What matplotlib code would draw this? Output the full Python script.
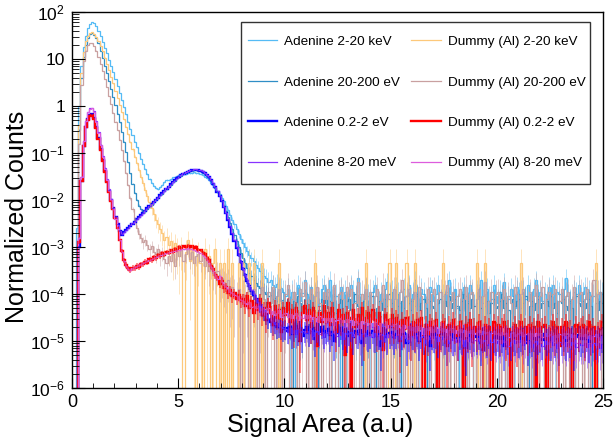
import matplotlib.pyplot as plt
import matplotlib.patches as patches
import numpy as np
from matplotlib.ticker import MultipleLocator, LogLocator, NullFormatter

plt.rcParams['font.family'] = ['Liberation Sans', 'DejaVu Sans']
plt.rcParams['mathtext.fontset'] = 'custom'
plt.rcParams['mathtext.rm'] = 'Liberation Sans'
plt.rcParams['mathtext.it'] = 'Liberation Sans:italic'
plt.rcParams['mathtext.bf'] = 'Liberation Sans:bold'

# histogram contents, log10 of the normalized counts, bins of 0.1 from 0 to 25
Z = -9  # empty bin
edges = np.linspace(0, 25, 251)

ade_kev = [
    Z, Z, -2.6, 0.0, 0.85, 1.25, 1.5, 1.66, 1.75, 1.79,
    1.76, 1.7, 1.6, 1.48, 1.36, 1.24, 1.12, 0.98, 0.86, 0.72,
    0.58, 0.42, 0.27, 0.12, -0.03, -0.18, -0.33, -0.48, -0.62, -0.76,
    -0.88, -1.0, -1.12, -1.23, -1.34, -1.45, -1.55, -1.63, -1.7, -1.74,
    -1.76, -1.72, -1.68, -1.62, -1.58, -1.57, -1.55, -1.52, -1.5, -1.48,
    -1.47, -1.46, -1.45, -1.44, -1.43, -1.42, -1.42, -1.41, -1.42, -1.42,
    -1.44, -1.46, -1.5, -1.54, -1.58, -1.63, -1.69, -1.75, -1.81, -1.87,
    -1.95, -2.03, -2.12, -2.22, -2.32, -2.42, -2.52, -2.62, -2.72, -2.82,
    -2.92, -3.0, -3.08, -3.16, -3.24, -3.3, -3.38, -3.45, -3.5, -3.56,
    -3.62, -3.66, -3.74, -3.7, -3.8, -3.85, -3.78, -3.92, -3.88, -3.95,
    -4.05, -3.9, -4.2, -3.95, Z, -4.0, -3.8, -4.15, -3.98, -3.7,
    -4.0, -4.1, -3.85, Z, -4.05, -3.95, -4.25, -3.9, -3.8, -4.1,
    -3.95, -3.7, -4.2, -4.0, -4.05, Z, -3.85, -4.1, -3.95, -4.3,
    -4.0, -3.8, -3.95, -4.15, -3.65, -4.0, Z, -4.1, -3.9, -4.05,
    -4.2, -3.95, -3.8, -4.05, Z, -4.0, -4.3, -3.9, -3.75, -4.0,
    -3.95, -4.1, -3.85, -4.0, -4.2, Z, -3.9, -4.05, -3.8, -4.15,
    -4.0, -3.7, -4.05, -4.25, -3.9, -4.0, Z, -4.1, -3.85, -3.95,
    -4.15, -4.0, -3.8, Z, -4.05, -4.2, -3.95, -3.7, -4.0, -4.1,
    -3.9, -4.3, Z, -4.0, -3.85, -4.05, -4.15, -3.8, -4.0, Z,
    -3.95, -4.05, -3.7, -4.2, -4.0, -3.9, Z, -4.1, -3.8, -4.05,
    -4.2, -3.95, -4.0, -3.75, Z, -4.1, -3.9, -4.05, -4.3, -3.85,
    -4.0, Z, -3.95, -4.1, -3.8, -4.0, -4.25, -3.9, -3.7, -4.05,
    -3.95, -4.15, -4.0, Z, -3.85, -4.05, -3.8, -4.2, -3.95, -4.0,
    -4.1, -3.9, -3.65, -4.05, -4.2, Z, -3.95, -4.0, -3.8, -4.15,
    -4.0, -3.85, -4.1, -3.95, Z, -4.05, -3.7, -4.2, -3.95, -4.0,
]

ade_ev20 = [
    Z, Z, Z, -0.5, 0.6, 1.05, 1.3, 1.45, 1.53, 1.55,
    1.52, 1.45, 1.33, 1.18, 1.02, 0.86, 0.7, 0.53, 0.36, 0.19,
    0.02, -0.16, -0.35, -0.55, -0.76, -0.98, -1.2, -1.43, -1.65, -1.85,
    -2.0, -2.12, -2.2, -2.25, -2.24, -2.19, -2.14, -2.1, -2.05, -2.0,
    -1.96, -1.9, -1.87, -1.8, -1.77, -1.71, -1.68, -1.62, -1.59, -1.54,
    -1.5, -1.48, -1.44, -1.43, -1.41, -1.39, -1.38, -1.37, -1.37, -1.38,
    -1.39, -1.42, -1.45, -1.49, -1.54, -1.6, -1.67, -1.75, -1.83, -1.92,
    -2.02, -2.12, -2.24, -2.36, -2.49, -2.62, -2.75, -2.88, -3.0, -3.12,
    -3.24, -3.35, -3.45, -3.55, -3.62, -3.7, -3.76, -3.82, -3.88, -3.92,
    -3.95, -4.0, -4.05, -4.02, -4.1, -4.08, -4.15, -4.1, -4.2, -4.12,
    -4.25, -4.1, -4.3, Z, -4.15, -4.35, -4.05, -4.2, -4.4, -4.1,
    -4.2, -4.3, -4.0, -4.25, -4.15, Z, -4.35, -4.1, -4.2, -4.05,
    -4.3, -4.15, -4.25, -4.05, -4.4, -4.2, -4.1, Z, -4.25, -4.15,
    -4.1, -4.35, -4.2, -4.0, -4.25, -4.3, Z, -4.15, -4.2, -4.4,
    -4.25, -4.05, Z, -4.3, -4.15, -4.2, -4.35, -4.1, -4.25, -4.0,
    -4.2, -4.4, -4.1, -4.25, Z, -4.15, -4.3, -4.05, -4.2, -4.35,
    -4.15, -4.25, -4.0, -4.35, -4.2, -4.1, -4.3, Z, -4.15, -4.25,
    -4.3, Z, -4.2, -4.1, -4.4, -4.15, -4.25, -4.05, -4.3, -4.2,
    -4.1, -4.25, -4.35, -4.15, -4.0, Z, -4.2, -4.3, -4.1, -4.25,
    -4.2, -4.05, -4.3, Z, -4.25, -4.15, -4.4, -4.2, -4.1, -4.3,
    -4.25, -4.15, -4.0, -4.3, -4.2, -4.35, Z, -4.1, -4.25, -4.15,
    -4.1, -4.3, -4.2, -4.05, Z, -4.25, -4.15, -4.35, -4.2, -4.1,
    -4.3, -4.2, Z, -4.15, -4.25, -4.05, -4.3, -4.2, -4.4, -4.15,
    -4.2, -4.1, -4.25, -4.35, -4.15, -4.3, Z, -4.05, -4.2, -4.25,
    -4.15, -4.3, -4.2, -4.1, -4.25, Z, -4.2, -4.35, -4.15, -4.2,
]

ade_ev02 = [
    Z, Z, Z, -3.0, -1.6, -0.85, -0.45, -0.28, -0.2, -0.18,
    -0.25, -0.45, -0.68, -0.92, -1.15, -1.38, -1.6, -1.8, -2.0, -2.18,
    -2.36, -2.52, -2.66, -2.74, -2.69, -2.64, -2.6, -2.55, -2.5, -2.46,
    -2.41, -2.37, -2.32, -2.28, -2.23, -2.18, -2.13, -2.08, -2.04, -1.99,
    -1.95, -1.9, -1.86, -1.81, -1.76, -1.72, -1.67, -1.62, -1.58, -1.54,
    -1.5, -1.47, -1.44, -1.42, -1.4, -1.38, -1.37, -1.36, -1.36, -1.37,
    -1.38, -1.4, -1.43, -1.47, -1.52, -1.58, -1.65, -1.73, -1.82, -1.92,
    -2.03, -2.15, -2.28, -2.42, -2.57, -2.72, -2.87, -3.02, -3.17, -3.32,
    -3.47, -3.6, -3.72, -3.83, -3.93, -4.02, -4.1, -4.18, -4.26, -4.33,
    -4.4, -4.48, -4.55, -4.6, -4.65, -4.62, -4.7, -4.68, -4.72, -4.75,
    -4.72, -4.78, -4.7, -4.85, -4.75, -4.68, -4.8, -4.74, -4.9, -4.76,
    -4.7, -4.82, -4.78, -4.72, -4.95, -4.76, -4.8, -4.7, -4.84, -4.78,
    -4.75, -4.88, -4.8, -5.0, -4.76, -4.82, -4.72, -4.86, -4.79, -4.9,
    -4.8, -4.74, -4.92, -4.78, -4.85, -4.76, -5.05, -4.82, -4.78, -4.88,
    -4.84, -4.78, -4.9, -4.8, -4.86, -5.1, -4.82, -4.76, -4.92, -4.84,
    -4.8, -4.92, -4.85, -4.78, -4.95, -4.86, -4.82, -5.05, -4.88, -4.8,
    -4.86, -4.9, -4.82, -5.0, -4.84, -4.92, -4.8, -4.88, -5.1, -4.86,
    -4.9, -4.84, -4.96, -4.86, -4.8, -4.92, -5.05, -4.88, -4.85, -4.94,
    -4.88, -5.0, -4.86, -4.92, -4.84, -5.15, -4.9, -4.86, -4.95, -4.88,
    -4.92, -4.86, -5.05, -4.9, -4.88, -4.96, -4.84, -5.0, -4.9, -4.94,
    -4.88, -4.95, -4.9, -5.1, -4.86, -4.92, -5.0, -4.88, -4.94, -4.9,
    -4.96, -4.88, -4.92, -4.86, -5.05, -4.9, -4.95, -4.88, -5.15, -4.92,
    -4.9, -4.98, -4.86, -4.94, -4.9, -5.0, -4.88, -4.96, -4.9, -5.05,
    -4.94, -4.88, -5.0, -4.9, -4.96, -4.86, -5.1, -4.92, -4.88, -4.95,
    -4.9, -4.96, -4.88, -5.02, -4.92, -4.9, -4.98, -4.86, -4.94, -4.9,
]

ade_mev = [
    Z, Z, Z, -2.8, -1.5, -0.75, -0.32, -0.12, -0.05, -0.04,
    -0.1, -0.32, -0.56, -0.82, -1.07, -1.31, -1.55, -1.77, -1.98, -2.18,
    -2.36, -2.53, -2.65, -2.72, -2.68, -2.63, -2.59, -2.54, -2.49, -2.45,
    -2.4, -2.36, -2.31, -2.27, -2.22, -2.17, -2.12, -2.08, -2.03, -1.98,
    -1.94, -1.89, -1.85, -1.8, -1.75, -1.71, -1.66, -1.61, -1.57, -1.53,
    -1.49, -1.46, -1.43, -1.41, -1.39, -1.37, -1.36, -1.35, -1.35, -1.36,
    -1.37, -1.39, -1.42, -1.46, -1.51, -1.57, -1.64, -1.72, -1.81, -1.91,
    -2.02, -2.14, -2.27, -2.41, -2.56, -2.71, -2.86, -3.01, -3.16, -3.31,
    -3.46, -3.59, -3.71, -3.82, -3.92, -4.01, -4.1, -4.18, -4.25, -4.32,
    -4.38, -4.45, -4.5, -4.56, -4.6, -4.64, -4.62, -4.68, -4.7, -4.72,
    -4.74, -4.8, -4.72, -4.82, -4.76, -4.86, -4.74, -4.8, -4.78, -4.84,
    -4.78, -4.84, -4.76, -4.9, -4.8, -4.78, -4.86, -4.8, -4.92, -4.82,
    -4.8, -4.86, -4.82, -4.78, -4.9, -4.84, -4.8, -4.95, -4.84, -4.86,
    -4.84, -4.8, -4.9, -4.86, -4.82, -4.96, -4.86, -4.84, -4.9, -4.88,
    -4.86, -4.92, -4.84, -4.9, -4.88, -4.86, -5.0, -4.88, -4.92, -4.86,
    -4.88, -4.94, -4.9, -4.86, -4.96, -4.9, -4.88, -4.94, -5.02, -4.9,
    -4.9, -4.94, -4.88, -4.98, -4.92, -4.9, -5.05, -4.92, -4.96, -4.9,
    -4.94, -4.9, -5.0, -4.92, -4.96, -4.94, -4.9, -5.05, -4.94, -4.98,
    -4.96, -5.02, -4.94, -4.98, -5.1, -4.96, -5.0, -4.94, -5.02, -4.98,
    -5.0, -4.96, -5.04, -4.98, -5.0, -5.08, -4.98, -5.02, -4.96, -5.05,
    -5.0, -5.06, -4.98, -5.02, -5.0, -5.1, -5.02, -4.98, -5.05, -5.0,
    -5.02, -4.98, -5.08, -5.0, -5.04, -5.0, -5.12, -5.02, -5.0, -5.06,
    -5.04, -5.1, -5.0, -5.06, -5.02, -5.0, -5.08, -5.04, -5.15, -5.02,
    -5.06, -5.02, -5.1, -5.04, -5.08, -5.02, -5.06, -5.12, -5.04, -5.08,
    -5.08, -5.04, -5.12, -5.06, -5.1, -5.04, -5.08, -5.05, -5.14, -5.06,
]

dum_kev = [
    Z, Z, Z, -0.4, 0.7, 1.15, 1.38, 1.5, 1.56, 1.57,
    1.54, 1.47, 1.38, 1.28, 1.16, 1.03, 0.9, 0.76, 0.62, 0.48,
    0.32, 0.17, 0.02, -0.13, -0.28, -0.44, -0.6, -0.76, -0.92, -1.08,
    -1.22, -1.36, -1.5, -1.64, -1.78, -1.92, -2.05, -2.18, -2.3, -2.42,
    -2.5, -2.62, -2.7, -2.85, -2.78, -2.95, -2.88, -3.1, -2.92, -3.05,
    -3.2, -3.0, Z, -3.1, -2.85, -3.3, -3.05, -3.35, Z, -3.15,
    -3.35, Z, -3.05, -3.35, -3.2, Z, -3.35, -3.05, Z, -3.35,
    Z, -3.35, Z, -3.05, Z, -3.35, Z, Z, -3.35, Z,
    -3.35, Z, Z, -3.35, Z, -3.35, Z, Z, Z, -3.35,
    Z, Z, Z, Z, Z, Z, Z, -3.35, Z, Z,
    Z, Z, Z, Z, Z, Z, Z, Z, Z, Z,
    Z, Z, Z, Z, -3.35, Z, Z, Z, Z, Z,
    Z, Z, Z, Z, Z, Z, Z, Z, Z, Z,
    Z, Z, Z, Z, Z, Z, Z, Z, -3.35, Z,
    Z, Z, Z, Z, Z, Z, Z, Z, Z, -3.35,
    Z, Z, -3.35, Z, Z, Z, Z, -3.35, Z, Z,
    Z, -3.35, Z, Z, Z, Z, Z, Z, Z, Z,
    Z, Z, Z, Z, -3.35, Z, Z, Z, Z, Z,
    Z, Z, Z, Z, Z, Z, Z, Z, Z, Z,
    -3.35, Z, Z, Z, -3.35, Z, Z, Z, Z, Z,
    Z, Z, Z, Z, Z, Z, Z, Z, Z, Z,
    Z, -3.35, Z, Z, Z, Z, Z, Z, Z, Z,
    Z, Z, Z, Z, Z, Z, Z, Z, Z, Z,
    Z, Z, Z, Z, Z, Z, Z, Z, Z, Z,
    Z, Z, Z, Z, Z, Z, -3.35, Z, Z, Z,
]

dum_ev20 = [
    Z, Z, Z, -0.8, 0.45, 0.95, 1.18, 1.3, 1.34, 1.33,
    1.28, 1.18, 1.05, 0.9, 0.74, 0.57, 0.4, 0.22, 0.04, -0.14,
    -0.33, -0.52, -0.72, -0.94, -1.17, -1.42, -1.68, -1.95, -2.2, -2.42,
    -2.6, -2.72, -2.8, -2.9, -2.85, -2.95, -3.05, -2.98, -3.1, -3.15,
    -3.05, -3.2, -3.12, -3.25, -3.35, -3.2, -3.3, -3.15, -3.4, -3.1,
    -3.2, -3.05, -3.3, -3.15, -3.0, -3.25, -3.1, -3.35, -3.2, -3.15,
    -3.3, -3.2, -3.4, -3.3, -3.5, -3.4, -3.55, -3.6, -3.5, -3.7,
    -3.65, -3.75, -3.8, -3.7, -3.9, -3.85, -3.95, -4.05, -3.9, Z,
    -4.0, -4.1, -3.95, Z, -4.05, -3.9, -4.15, Z, -4.0, -3.85,
    -4.1, Z, -3.95, -4.2, -3.85, Z, -4.05, -3.9, -4.15, Z,
    -4.0, -3.8, Z, -4.1, -3.95, -4.2, Z, -3.9, -4.05, -3.75,
    Z, -4.1, -3.9, Z, -4.05, -3.85, -4.2, Z, -3.95, -4.1,
    -3.9, Z, -4.15, -3.8, Z, -4.0, -3.95, -4.1, Z, -3.85,
    -4.05, -3.9, Z, -4.2, -3.75, Z, -4.0, -4.1, -3.9, Z,
    -3.95, Z, -4.05, -3.9, Z, -4.15, -3.8, Z, -4.0, -4.1,
    Z, -3.9, -4.1, Z, -3.95, -3.7, Z, -4.05, -3.9, Z,
    -4.1, -3.95, Z, -3.85, -4.05, Z, -4.2, -3.9, Z, -4.0,
    -3.9, Z, -4.1, -3.95, Z, -4.0, -3.8, Z, -4.15, -3.95,
    Z, -4.05, -3.9, Z, -4.1, -3.85, Z, -4.0, -3.95, Z,
    -4.1, -3.9, Z, -4.05, -3.75, Z, -4.15, -3.95, Z, -4.0,
    -3.95, Z, -4.1, -3.9, Z, -4.05, -4.2, Z, -3.85, -4.0,
    Z, -4.0, -3.9, Z, -4.15, -3.95, Z, -4.05, -3.8, Z,
    -4.05, -3.85, Z, -4.1, -3.95, Z, -4.0, -3.9, Z, -4.15,
    -3.9, Z, -4.05, -3.95, Z, -4.1, -3.85, Z, -4.0, -3.95,
    Z, -4.1, -3.9, Z, -4.05, -3.7, Z, -4.0, -3.95, Z,
]

dum_ev02 = [
    Z, Z, Z, -2.9, -1.6, -0.85, -0.45, -0.3, -0.22, -0.2,
    -0.27, -0.47, -0.7, -0.94, -1.17, -1.4, -1.62, -1.82, -2.02, -2.2,
    -2.38, -2.6, -2.85, -3.08, -3.28, -3.38, -3.45, -3.48, -3.44, -3.45,
    -3.4, -3.42, -3.36, -3.37, -3.31, -3.33, -3.26, -3.28, -3.22, -3.24,
    -3.17, -3.2, -3.13, -3.16, -3.1, -3.12, -3.07, -3.1, -3.04, -3.07,
    -3.0, -3.03, -2.98, -3.01, -2.97, -3.0, -2.98, -3.03, -3.0, -3.06,
    -3.07, -3.13, -3.15, -3.24, -3.28, -3.4, -3.46, -3.6, -3.64, -3.78,
    -3.72, -3.88, -3.85, -3.98, -3.92, -4.05, -3.98, -4.1, -4.02, -4.15,
    -4.1, -4.25, -4.05, -4.3, -4.15, -4.4, -4.2, -4.35, -4.1, -4.45,
    -4.3, -4.55, -4.2, -4.4, -4.65, -4.25, -4.5, -4.35, -4.8, -4.3,
    -4.45, -4.2, -4.6, -4.35, -4.75, -4.3, -4.5, -5.0, -4.4, -4.25,
    -4.55, -4.35, -4.7, -4.3, -4.5, -5.1, -4.4, -4.6, -4.25, -4.5,
    -4.4, -4.65, -4.3, -4.55, -4.8, -4.35, -4.6, -4.45, -5.3, -4.4,
    -4.5, Z, -4.35, -4.7, -4.45, -4.6, -4.3, -4.9, -4.5, -4.4,
    -4.6, -4.35, -4.55, -4.8, -4.4, -4.65, -5.2, -4.45, -4.55, -4.7,
    -4.45, -4.7, -4.5, -4.6, -5.0, -4.55, -4.75, -4.5, -4.65, -4.9,
    -4.6, -4.8, -4.55, -4.7, -4.5, Z, -4.65, -4.85, -4.6, -4.7,
    -4.75, -4.55, Z, -4.8, -4.6, -4.7, -5.1, -4.65, -4.8, -4.55,
    -4.7, -4.9, -4.6, -4.75, Z, -4.65, -4.8, -4.55, -4.95, -4.7,
    -4.8, -4.6, -4.75, -5.2, -4.65, -4.85, -4.7, Z, -4.6, -4.8,
    -4.65, -4.85, -4.7, -4.6, -4.9, -4.75, Z, -4.8, -4.65, -4.95,
    -4.75, -4.6, -5.0, -4.7, -4.85, -4.65, -4.8, -4.7, Z, -4.6,
    -4.8, -4.7, -4.65, Z, -4.9, -4.75, -4.6, -4.85, -4.7, -5.1,
    -4.7, -4.85, -4.6, -4.8, -4.75, Z, -4.9, -4.65, -4.8, -4.7,
    -4.65, -4.9, -4.75, -4.6, -4.85, -4.7, Z, -4.8, -4.75, -4.6,
]

dum_mev = [
    Z, Z, Z, -2.8, -1.5, -0.75, -0.32, -0.12, -0.06, -0.05,
    -0.12, -0.34, -0.58, -0.84, -1.09, -1.34, -1.58, -1.8, -2.0, -2.2,
    -2.4, -2.62, -2.86, -3.1, -3.3, -3.4, -3.46, -3.48, -3.45, -3.42,
    -3.4, -3.38, -3.36, -3.34, -3.31, -3.29, -3.27, -3.25, -3.23, -3.21,
    -3.19, -3.17, -3.16, -3.14, -3.13, -3.11, -3.1, -3.09, -3.08, -3.07,
    -3.06, -3.05, -3.04, -3.04, -3.03, -3.04, -3.05, -3.06, -3.08, -3.1,
    -3.13, -3.17, -3.22, -3.28, -3.35, -3.43, -3.52, -3.6, -3.68, -3.62,
    -3.75, -3.8, -3.86, -3.9, -3.95, -3.98, -4.02, -4.05, -4.1, -4.12,
    -4.15, -4.2, -4.22, -4.18, -4.28, -4.25, -4.3, -4.26, -4.35, -4.3,
    -4.32, -4.38, -4.3, -4.42, -4.36, -4.45, -4.4, -4.35, -4.48, -4.42,
    -4.4, -4.48, -4.42, -4.52, -4.45, -4.4, -4.55, -4.47, -4.5, -4.44,
    -4.5, -4.45, -4.58, -4.48, -4.52, -4.6, -4.46, -4.55, -4.5, -4.62,
    -4.52, -4.58, -4.5, -4.65, -4.55, -4.5, -4.6, -4.56, -4.7, -4.54,
    -4.6, -4.55, -4.65, -4.58, -4.62, -4.72, -4.58, -4.64, -4.6, -4.68,
    -4.62, -4.7, -4.6, -4.66, -4.75, -4.62, -4.68, -4.64, -4.72, -4.66,
    -4.68, -4.64, -4.74, -4.66, -4.7, -4.8, -4.66, -4.72, -4.68, -4.76,
    -4.7, -4.78, -4.68, -4.74, -4.7, -4.85, -4.72, -4.76, -4.7, -4.8,
    -4.74, -4.7, -4.82, -4.72, -4.78, -4.74, -4.88, -4.76, -4.72, -4.8,
    -4.76, -4.84, -4.74, -4.8, -4.76, -4.9, -4.78, -4.82, -4.76, -4.86,
    -4.8, -4.76, -4.86, -4.78, -4.84, -4.8, -4.95, -4.82, -4.78, -4.86,
    -4.82, -4.88, -4.8, -4.86, -4.82, -4.92, -4.84, -4.8, -4.9, -4.85,
    -4.84, -4.8, -4.9, -4.86, -4.82, -4.95, -4.86, -4.9, -4.84, -4.88,
    -4.86, -4.92, -4.84, -4.9, -4.88, -4.85, -5.0, -4.88, -4.92, -4.86,
    -4.88, -4.84, -4.94, -4.9, -4.86, -4.92, -4.88, -5.05, -4.9, -4.86,
    -4.9, -4.86, -4.94, -4.88, -4.95, -4.9, -4.86, -4.92, -4.98, -4.9,
]

labels = ['Adenine 2-20 keV', 'Adenine 20-200 eV', 'Adenine 0.2-2 eV', 'Adenine 8-20 meV',
          'Dummy (Al) 2-20 keV', 'Dummy (Al) 20-200 eV', 'Dummy (Al) 0.2-2 eV', 'Dummy (Al) 8-20 meV']
series = [ade_kev, ade_ev20, ade_ev02, ade_mev, dum_kev, dum_ev20, dum_ev02, dum_mev]
colors = ['#55bbf5', '#2f8ec6', '#0000ff', '#8833ff', '#fdc87a', '#c9a0a0', '#ff0000', '#dd5cdd']
widths = [0.9, 0.9, 1.7, 0.9, 0.9, 0.9, 1.7, 0.9]
# normalized value of a single count, sets the statistical error bars
one_count = [10**-4.2, 10**-4.5, 10**-5.4, 10**-5.5, 10**-3.35, 10**-4.05, 10**-5.2, 10**-5.5]
draw_order = [0, 1, 4, 5, 2, 6, 3, 7]

fig = plt.figure(figsize=(6.14, 4.41), dpi=100)
ax = fig.add_axes([72/614, 1 - 388/441, 531/614, 376/441])
ax.set_yscale('log')

centers = 0.5 * (edges[:-1] + edges[1:])
for i in draw_order:
    v = 10.0 ** np.array(series[i], dtype=float)
    ax.stairs(v, edges, color=colors[i], lw=widths[i], baseline=None)
    filled = v > 1e-8
    err = np.sqrt(v * one_count[i])
    lo = np.clip(v - err, 1e-9, None)
    ax.vlines(centers[filled], lo[filled], (v + err)[filled],
              color=colors[i], lw=widths[i] * 0.7, alpha=0.55)

ax.set_xlim(0, 25)
ax.set_ylim(1e-6, 1e2)

ax.xaxis.set_major_locator(MultipleLocator(5))
ax.xaxis.set_minor_locator(MultipleLocator(1))
ax.set_yticks([1e-6, 1e-5, 1e-4, 1e-3, 1e-2, 1e-1, 1, 10, 100])
ax.set_yticklabels([r'$10^{-6}$', r'$10^{-5}$', r'$10^{-4}$', r'$10^{-3}$', r'$10^{-2}$',
                    r'$10^{-1}$', '1', '10', r'$10^{2}$'])
ax.yaxis.set_minor_locator(LogLocator(base=10, subs=np.arange(2, 10), numticks=20))
ax.yaxis.set_minor_formatter(NullFormatter())

ax.tick_params(which='both', direction='in', top=False, right=False, colors='black')
ax.tick_params(axis='x', which='major', length=7, pad=4, labelsize=13)
ax.tick_params(axis='x', which='minor', length=3.5)
ax.tick_params(axis='y', which='major', length=9, pad=5, labelsize=12.5)
ax.tick_params(axis='y', which='minor', length=5)
for s in ax.spines.values():
    s.set_linewidth(1.0)

ax.set_xlabel('Signal Area (a.u)', fontsize=18, va='center')
ax.xaxis.set_label_coords(0.467, -0.098)
ax.set_ylabel('Normalized Counts', fontsize=18, va='center')
ax.yaxis.set_label_coords(-0.103, 0.455)

# legend box drawn separately so its padding matches the reference
box = patches.Rectangle((0.318, 0.543), 0.657, 0.43, transform=ax.transAxes,
                        facecolor='white', edgecolor='#333333', lw=1.0, zorder=4)
ax.add_patch(box)
handles = [ax.plot([], [], color=colors[i], lw=widths[i], label=labels[i])[0] for i in range(8)]
leg = ax.legend(handles=handles, ncol=2, loc='upper left', bbox_to_anchor=(0.331, 0.937),
                fontsize=9.7, labelspacing=2.08, borderpad=0, borderaxespad=0,
                handlelength=2.2, handletextpad=0.52, columnspacing=0.8, frameon=False)
leg.set_zorder(5)

fig.savefig('out.png', dpi=100)
